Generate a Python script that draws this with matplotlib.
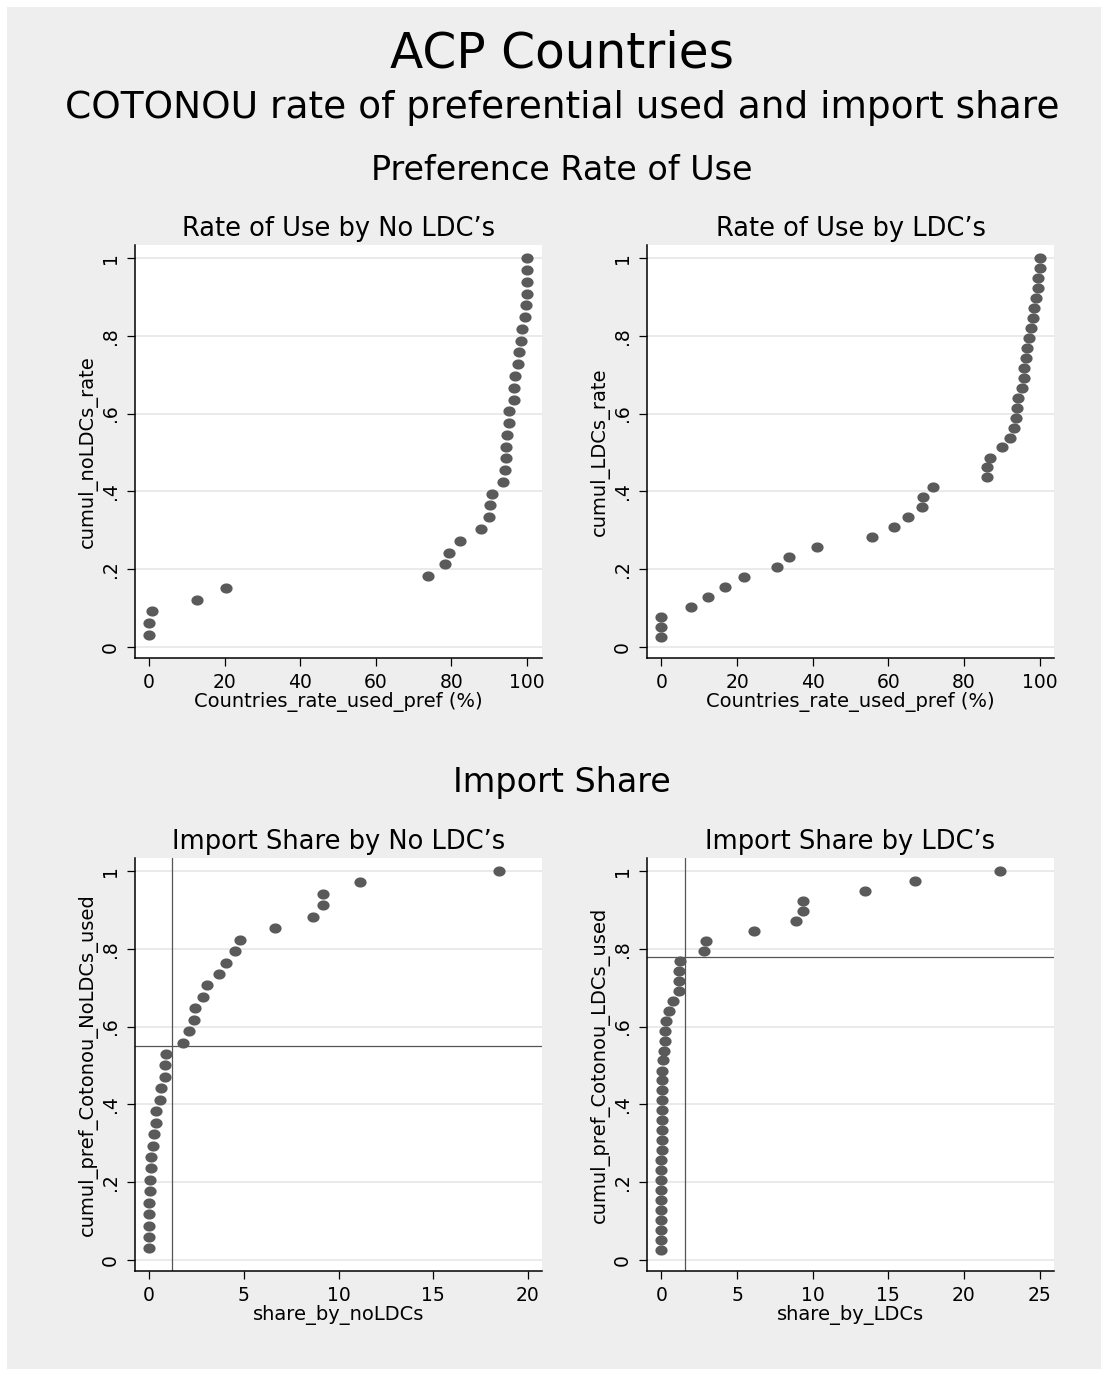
import numpy as np
import matplotlib
matplotlib.use("Agg")
import matplotlib.pyplot as plt
from matplotlib.path import Path
from matplotlib.patches import Rectangle

W, H = 1108, 1376
BG, DOT, GRID = "#eeeeee", "#5a5a5a", "#e6e6e6"

# --- data ---
rate_noldc_x = [0, 0, 0.9, 12.8, 20.4, 73.9, 78.2, 79.4, 82.2, 87.9, 90.0, 90.2, 90.8,
                93.8, 94.2, 94.4, 94.4, 94.8, 95.2, 95.3, 96.5, 96.7, 96.9, 97.6, 98.0,
                98.4, 98.6, 99.4, 99.7, 100, 100, 100, 100]
rate_noldc_y = [0.030, 0.061, 0.091, 0.121, 0.152, 0.182, 0.212, 0.242, 0.273, 0.303,
                0.333, 0.364, 0.394, 0.424, 0.455, 0.485, 0.515, 0.545, 0.576, 0.606,
                0.636, 0.667, 0.697, 0.727, 0.758, 0.788, 0.818, 0.848, 0.879, 0.909,
                0.939, 0.970, 1.000]

rate_ldc_x = [0, 0, 0, 7.75, 12.4, 16.7, 21.8, 30.7, 33.7, 41.1, 55.7, 61.4, 65.2, 68.8,
              69.1, 71.8, 86.1, 86.1, 86.8, 90.0, 92.2, 93.2, 93.7, 94.1, 94.4, 95.4,
              95.9, 96.0, 96.5, 96.7, 97.1, 97.8, 98.2, 98.6, 99.0, 99.6, 99.7, 100, 100]
rate_ldc_y = [0.026, 0.051, 0.077, 0.103, 0.128, 0.154, 0.179, 0.205, 0.231, 0.256,
              0.282, 0.308, 0.333, 0.359, 0.385, 0.410, 0.436, 0.462, 0.487, 0.513,
              0.538, 0.564, 0.590, 0.615, 0.641, 0.667, 0.692, 0.718, 0.744, 0.769,
              0.795, 0.821, 0.846, 0.872, 0.897, 0.923, 0.949, 0.974, 1.000]

share_noldc_x = [0.02, 0.02, 0.02, 0.02, 0.02, 0.07, 0.07, 0.12, 0.12, 0.20, 0.25, 0.39,
                 0.39, 0.58, 0.63, 0.83, 0.86, 0.90, 1.78, 2.11, 2.36, 2.45, 2.85, 3.06,
                 3.71, 4.05, 4.54, 4.81, 6.67, 8.66, 9.16, 9.19, 11.16, 18.49]
share_noldc_y = [0.029, 0.059, 0.088, 0.118, 0.147, 0.176, 0.206, 0.235, 0.265, 0.294,
                 0.324, 0.353, 0.382, 0.412, 0.441, 0.471, 0.500, 0.529, 0.559, 0.588,
                 0.618, 0.647, 0.676, 0.706, 0.735, 0.765, 0.794, 0.824, 0.853, 0.882,
                 0.912, 0.941, 0.971, 1.000]

share_ldc_x = [0, 0, 0, 0, 0, 0, 0, 0, 0, 0, 0.02, 0.02, 0.02, 0.02, 0.05, 0.05, 0.07,
               0.07, 0.07, 0.11, 0.17, 0.22, 0.24, 0.33, 0.50, 0.77, 1.14, 1.16, 1.19,
               1.23, 2.80, 2.97, 6.15, 8.92, 9.39, 9.39, 13.48, 16.74, 22.36]
share_ldc_y = rate_ldc_y  # same 39 LDC countries, same cumulative steps

ref_noldc = (1.22, 0.55)   # xline, yline
ref_ldc = (1.56, 0.78)

yticks = [0, 0.2, 0.4, 0.6, 0.8, 1]
ytick_labels = ["0", ".2", ".4", ".6", ".8", "1"]

# slightly flattened dot, like the original rendering
t = np.linspace(0, 2 * np.pi, 40)
DOT_MARKER = Path(np.column_stack([np.cos(t), 0.83 * np.sin(t)]), closed=True)

fig = plt.figure(figsize=(W / 100, H / 100), dpi=100)
fig.patch.set_facecolor("white")
fig.add_artist(Rectangle((7 / W, 1 - 1369 / H), 1094 / W, 1362 / H,
                         transform=fig.transFigure, facecolor=BG, edgecolor="none", zorder=0))


def px_axes(left, top, right, bottom):
    return fig.add_axes([left / W, 1 - bottom / H, (right - left) / W, (bottom - top) / H])


def panel(ax, x, y, xlim, xticks, xlabel, ylabel, title, ref=None):
    ax.set_facecolor("white")
    ax.set_ylim(-0.029, 1.034)
    ax.set_xlim(*xlim)
    for v in yticks:
        ax.axhline(v, color=GRID, lw=1.2, zorder=1)
    if ref:
        ax.axvline(ref[0], color="#555555", lw=0.9, zorder=2)
        ax.axhline(ref[1], color="#555555", lw=0.9, zorder=2)
    ax.plot(x, y, ls="none", marker=DOT_MARKER, ms=8.8, color=DOT, mec="none", zorder=3)
    ax.set_yticks(yticks)
    ax.set_yticklabels(ytick_labels, rotation=90, va="center")
    ax.set_xticks(xticks)
    ax.tick_params(length=5.8, width=0.9, pad=5, labelsize=13.5)
    for s in ["top", "right"]:
        ax.spines[s].set_visible(False)
    for s in ["left", "bottom"]:
        ax.spines[s].set_linewidth(1.1)
    ax.set_xlabel(xlabel, fontsize=14, labelpad=0)
    ax.set_ylabel(ylabel, fontsize=14, labelpad=2)
    cx = np.mean(ax.get_position().intervalx)
    ytop = ax.get_position().y1
    fig.text(cx, ytop + 16 / H, title, ha="center", va="center", fontsize=18.5)


ax1 = px_axes(135, 245, 542, 658)
panel(ax1, rate_noldc_x, rate_noldc_y, (-3.7, 104.0), [0, 20, 40, 60, 80, 100],
      "Countries_rate_used_pref (%)", "cumul_noLDCs_rate", "Rate of Use by No LDC\u2019s")

ax2 = px_axes(647, 245, 1054, 658)
panel(ax2, rate_ldc_x, rate_ldc_y, (-3.8, 103.8), [0, 20, 40, 60, 80, 100],
      "Countries_rate_used_pref (%)", "cumul_LDCs_rate", "Rate of Use by LDC\u2019s")

ax3 = px_axes(135, 858, 542, 1271)
panel(ax3, share_noldc_x, share_noldc_y, (-0.74, 20.74), [0, 5, 10, 15, 20],
      "share_by_noLDCs", "cumul_pref_Cotonou_NoLDCs_used", "Import Share by No LDC\u2019s",
      ref=ref_noldc)

ax4 = px_axes(647, 858, 1054, 1271)
panel(ax4, share_ldc_x, share_ldc_y, (-0.95, 25.95), [0, 5, 10, 15, 20, 25],
      "share_by_LDCs", "cumul_pref_Cotonou_LDCs_used", "Import Share by LDC\u2019s",
      ref=ref_ldc)

fig.text(562 / W, 1 - 54 / H, "ACP Countries", ha="center", va="center", fontsize=35)
fig.text(562 / W, 1 - 108 / H, "COTONOU rate of preferential used and import share",
         ha="center", va="center", fontsize=27)
fig.text(562 / W, 1 - 171 / H, "Preference Rate of Use", ha="center", va="center", fontsize=24)
fig.text(562 / W, 1 - 783 / H, "Import Share", ha="center", va="center", fontsize=24)

fig.savefig("out.png", dpi=100)
